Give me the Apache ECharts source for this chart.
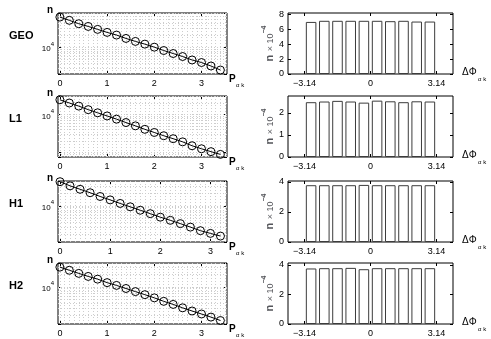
<!DOCTYPE html>
<html>
<head>
<meta charset="utf-8">
<script src="https://cdn.jsdelivr.net/npm/echarts@6/dist/echarts.min.js"></script>
<style>
  html, body { margin: 0; padding: 0; background: #fff; }
  #main { width: 491px; height: 339px; }
</style>
</head>
<body>
<div id="main"></div>
<script>
var detectors = ['GEO', 'L1', 'H1', 'H2'];

// left column: n against P_ak (log y)
var pGEO = [0, 0.2, 0.4, 0.6, 0.8, 1.0, 1.2, 1.4, 1.6, 1.8, 2.0, 2.2, 2.4, 2.6, 2.8, 3.0, 3.2, 3.4];
var pL1  = [0, 0.2, 0.4, 0.6, 0.8, 1.0, 1.2, 1.4, 1.6, 1.8, 2.0, 2.2, 2.4, 2.6, 2.8, 3.0, 3.2, 3.4];
var pH1  = [0, 0.2, 0.4, 0.6, 0.8, 1.0, 1.2, 1.4, 1.6, 1.8, 2.0, 2.2, 2.4, 2.6, 2.8, 3.0, 3.2];
var pH2  = [0, 0.2, 0.4, 0.6, 0.8, 1.0, 1.2, 1.4, 1.6, 1.8, 2.0, 2.2, 2.4, 2.6, 2.8, 3.0, 3.2, 3.4];

var nGEO = [56000, 46500, 38300, 32800, 27700, 23300, 20000, 16500, 13900, 11900, 10000, 8250, 6950, 5850, 4800, 4150, 3400, 2700];
var nL1  = [24200, 19900, 16500, 13300, 11000, 9100, 7500, 6100, 5000, 4050, 3350, 2750, 2300, 1900, 1500, 1250, 1050, 890];
var nH1  = [38300, 30400, 25100, 20700, 16800, 13900, 11400, 9450, 7800, 6450, 5300, 4450, 3700, 3050, 2500, 2150, 1850];
var nH2  = [29900, 25100, 21100, 17800, 15300, 12600, 10800, 9100, 7650, 6450, 5400, 4450, 3750, 3100, 2600, 2200, 1850, 1530];

var pTicks = [0, 1, 2, 3];

// right column: histogram of delta phi, n x 10^-4
var phiCenters = [-2.827, -2.199, -1.571, -0.942, -0.314, 0.314, 0.942, 1.571, 2.199, 2.827];
var hGEO = [7.0, 7.15, 7.15, 7.15, 7.15, 7.15, 7.1, 7.15, 7.05, 7.05];
var hL1  = [2.48, 2.51, 2.54, 2.51, 2.46, 2.55, 2.52, 2.48, 2.52, 2.51];
var hH1  = [3.77, 3.77, 3.77, 3.77, 3.79, 3.77, 3.77, 3.77, 3.77, 3.77];
var hH2  = [3.75, 3.77, 3.77, 3.79, 3.70, 3.77, 3.77, 3.77, 3.77, 3.77];

var phiTicks = [-3.1416, 0, 3.1416];
var phiTickLabels = ['\u22123.14', '0', '3.14'];
var hTicks = [[0, 2, 4, 6, 8], [0, 1, 2], [0, 2, 4], [0, 2, 4]];

var pSets = [pGEO, pL1, pH1, pH2];
var nSets = [nGEO, nL1, nH1, nH2];
var hSets = [hGEO, hL1, hH1, hH2];

// axis limits
var nMin = [2150, 760, 1330, 1260];
var nMax = [70800, 30400, 39800, 37600];
var pMax = [3.54, 3.54, 3.33, 3.54];
var hMax = [8.2, 2.76, 4.05, 4.12];

var tops = [13, 96, 181, 263];
var panelH = 61;

var font = '"Liberation Sans", Arial, sans-serif';
var gridColor = '#cdcdcd';

var chart = echarts.init(document.getElementById('main'));

function logGridValues(lo, hi) {
  var out = [];
  for (var e = Math.floor(Math.log10(lo)); e <= Math.ceil(Math.log10(hi)); e++) {
    for (var m = 1; m <= 9; m++) {
      var v = m * Math.pow(10, e);
      if (v > lo && v < hi) out.push(v);
    }
  }
  return out;
}

var noLine = { show: false, onZero: false };
var tickStyle = { color: '#000' };

var grids = [], xAxes = [], yAxes = [], series = [], graphics = [];

for (var i = 0; i < 4; i++) {
  var gl = 2 * i, gr = 2 * i + 1;
  grids.push({ left: 58, top: tops[i], width: 169, height: panelH,
    show: true, borderColor: '#000', borderWidth: 1 });
  grids.push({ left: 288, top: tops[i], width: 165, height: panelH,
    show: true, borderColor: '#000', borderWidth: 1 });

  // left panel axes
  xAxes.push({
    type: 'value', gridIndex: gl, min: -0.04, max: pMax[i],
    axisLine: noLine,
    axisTick: { inside: true, length: 3, lineStyle: tickStyle, customValues: pTicks },
    axisLabel: { fontSize: 9, color: '#000', fontFamily: font, margin: 5, customValues: pTicks },
    splitLine: { show: false }
  });
  xAxes.push({
    type: 'value', gridIndex: gl, position: 'top', min: -0.04, max: pMax[i],
    axisLine: noLine,
    axisTick: { inside: true, length: 3, lineStyle: tickStyle, customValues: pTicks },
    axisLabel: { show: false }, splitLine: { show: false }
  });
  yAxes.push({
    type: 'log', gridIndex: gl, min: nMin[i], max: nMax[i],
    axisLine: noLine,
    axisTick: { inside: true, length: 3, lineStyle: tickStyle },
    axisLabel: {
      color: '#000', fontFamily: font, margin: 4,
      formatter: function (v) { return Math.abs(v - 10000) < 1 ? '{m|10}{s|4}' : ''; },
      rich: {
        m: { fontSize: 8, fontFamily: font, lineHeight: 12, verticalAlign: 'bottom' },
        s: { fontSize: 6, fontFamily: font, lineHeight: 6, verticalAlign: 'top' }
      }
    },
    splitLine: { show: false }
  });
  yAxes.push({
    type: 'log', gridIndex: gl, position: 'right', min: nMin[i], max: nMax[i],
    axisLine: noLine,
    axisTick: { inside: true, length: 3, lineStyle: tickStyle },
    axisLabel: { show: false }, splitLine: { show: false }
  });

  // right panel axes
  xAxes.push({
    type: 'value', gridIndex: gr, min: -3.927, max: 3.927,
    axisLine: noLine,
    axisTick: { inside: true, length: 3, lineStyle: tickStyle, customValues: phiTicks },
    axisLabel: {
      fontSize: 9, color: '#000', fontFamily: font, margin: 5, customValues: phiTicks,
      formatter: function (v) {
        var k = 0, best = 1e9;
        for (var j = 0; j < phiTicks.length; j++) {
          if (Math.abs(phiTicks[j] - v) < best) { best = Math.abs(phiTicks[j] - v); k = j; }
        }
        return phiTickLabels[k];
      }
    },
    splitLine: { show: false }
  });
  xAxes.push({
    type: 'value', gridIndex: gr, position: 'top', min: -3.927, max: 3.927,
    axisLine: noLine,
    axisTick: { inside: true, length: 3, lineStyle: tickStyle, customValues: phiTicks },
    axisLabel: { show: false }, splitLine: { show: false }
  });
  yAxes.push({
    type: 'value', gridIndex: gr, min: 0, max: hMax[i],
    axisLine: noLine,
    axisTick: { inside: true, length: 3, lineStyle: tickStyle, customValues: hTicks[i] },
    axisLabel: { fontSize: 9, color: '#000', fontFamily: font, margin: 4, customValues: hTicks[i] },
    splitLine: { show: false },
    name: '{b|n} {m|\u00d7 10}{s|\u22124}',
    nameLocation: 'middle', nameRotate: 90, nameGap: 13,
    nameTextStyle: {
      rich: {
        b: { fontSize: 11, fontWeight: 'bold', fontFamily: font, lineHeight: 14, verticalAlign: 'bottom' },
        m: { fontSize: 9, fontFamily: font, lineHeight: 14, verticalAlign: 'bottom' },
        s: { fontSize: 7, fontWeight: 'bold', fontFamily: font, lineHeight: 8, verticalAlign: 'top' }
      }
    }
  });
  yAxes.push({
    type: 'value', gridIndex: gr, position: 'right', min: 0, max: hMax[i],
    axisLine: noLine,
    axisTick: { inside: true, length: 3, lineStyle: tickStyle, customValues: hTicks[i] },
    axisLabel: { show: false }, splitLine: { show: false }
  });

  // dotted grid of the left panel
  var gridLines = [];
  for (var t = 0; t <= Math.floor(pMax[i] * 10); t++) {
    gridLines.push({ xAxis: t / 10 });
  }
  logGridValues(nMin[i], nMax[i]).forEach(function (v) { gridLines.push({ yAxis: v }); });

  var pts = pSets[i].map(function (p, k) { return [p, nSets[i][k]]; });
  series.push({
    type: 'line', xAxisIndex: 4 * i, yAxisIndex: 4 * i, data: pts,
    symbol: 'circle', symbolSize: 8, z: 3,
    lineStyle: { color: '#000', width: 1 },
    itemStyle: { color: 'rgba(255,255,255,0)', borderColor: '#000', borderWidth: 1 },
    markLine: {
      silent: true, symbol: 'none', z: 1, animation: false,
      label: { show: false },
      lineStyle: { color: gridColor, width: 1, type: [1, 2] },
      data: gridLines
    }
  });

  var bars = phiCenters.map(function (x, k) { return [x, hSets[i][k]]; });
  series.push({
    type: 'bar', xAxisIndex: 4 * i + 2, yAxisIndex: 4 * i + 2, data: bars,
    barWidth: '80%',
    itemStyle: { color: '#fff', borderColor: '#3c3c3c', borderWidth: 1 }
  });

  // panel labels
  graphics.push({ type: 'text', x: 9, y: tops[i] + 23, style: {
    text: detectors[i], font: 'bold 11px ' + font, fill: '#000', align: 'left', verticalAlign: 'middle' } });
  graphics.push({ type: 'text', x: 50, y: tops[i] - 3, style: {
    text: 'n', font: 'bold 10px ' + font, fill: '#000', align: 'center', verticalAlign: 'middle' } });
  graphics.push({ type: 'text', x: 229, y: tops[i] + panelH + 5, style: {
    text: 'P', font: 'bold 10px ' + font, fill: '#000', align: 'left', verticalAlign: 'middle' } });
  graphics.push({ type: 'text', x: 236, y: tops[i] + panelH + 11, style: {
    text: '\u03b1 k', font: '6px ' + font, fill: '#000', align: 'left', verticalAlign: 'middle' } });
  graphics.push({ type: 'text', x: 462, y: tops[i] + panelH - 2, style: {
    text: '\u0394\u03a6', font: '10px ' + font, fill: '#000', align: 'left', verticalAlign: 'middle' } });
  graphics.push({ type: 'text', x: 478, y: tops[i] + panelH + 5, style: {
    text: '\u03b1 k', font: '6px ' + font, fill: '#000', align: 'left', verticalAlign: 'middle' } });
}

chart.setOption({
  backgroundColor: '#fff',
  animation: false,
  grid: grids,
  xAxis: xAxes,
  yAxis: yAxes,
  series: series,
  graphic: graphics
});
</script>
</body>
</html>
